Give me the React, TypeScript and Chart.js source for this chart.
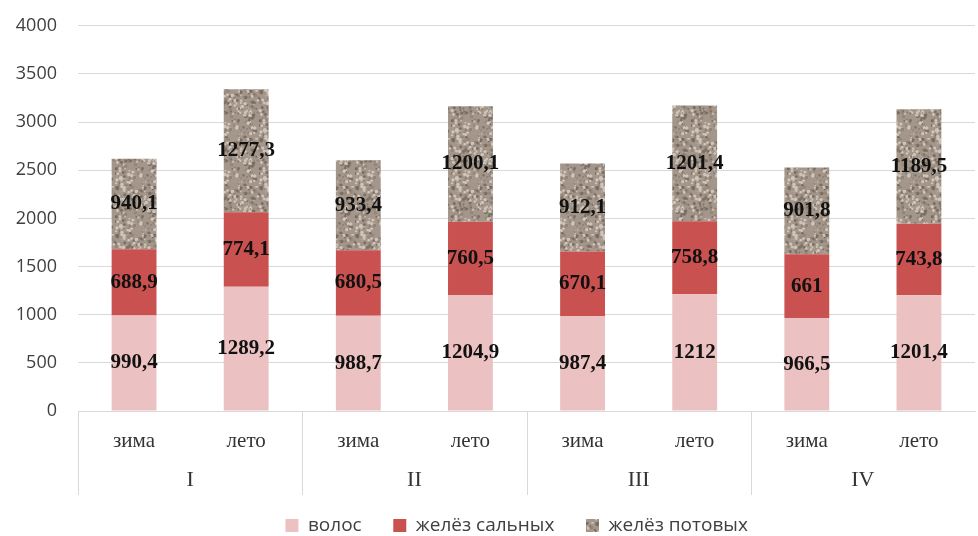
import React, { useEffect, useRef } from "react";
import { Chart, registerables } from "chart.js";
Chart.register(...registerables);

const seasons = ["зима", "лето", "зима", "лето", "зима", "лето", "зима", "лето"];
const groups = ["I", "II", "III", "IV"];
const hair = [990.4, 1289.2, 988.7, 1204.9, 987.4, 1212, 966.5, 1201.4];
const sebaceous = [688.9, 774.1, 680.5, 760.5, 670.1, 758.8, 661, 743.8];
const sweat = [940.1, 1277.3, 933.4, 1200.1, 912.1, 1201.4, 901.8, 1189.5];
const seriesNames = ["волос", "желёз сальных", "желёз потовых"];
const yTicks = [0, 500, 1000, 1500, 2000, 2500, 3000, 3500, 4000];

function makeTexture(): CanvasPattern | string {
  const c = document.createElement("canvas");
  c.width = 48;
  c.height = 48;
  const ctx = c.getContext("2d");
  if (!ctx) return "#a89a8c";
  ctx.fillStyle = "#a4968a";
  ctx.fillRect(0, 0, 48, 48);
  let s = 12345;
  const rnd = () => {
    s = (s * 1103515245 + 12345) & 0x7fffffff;
    return s / 0x7fffffff;
  };
  for (let i = 0; i < 240; i++) {
    const x = rnd() * 48;
    const y = rnd() * 48;
    const r = 0.6 + rnd() * 1.3;
    const t = rnd();
    ctx.fillStyle = t < 0.4 ? "#cfc5ba" : t < 0.75 ? "#7a6e63" : "#94877a";
    ctx.beginPath();
    ctx.arc(x, y, r, 0, Math.PI * 2);
    ctx.fill();
  }
  return ctx.createPattern(c, "repeat") || "#a89a8c";
}

function fmt(v: number): string {
  return String(v).replace(".", ",");
}

export default function App() {
  const ref = useRef<HTMLCanvasElement>(null);
  useEffect(() => {
    if (!ref.current) return;
    const texture = makeTexture();
    const labelsPlugin = {
      id: "segLabels",
      afterDatasetsDraw(chart: any) {
        const ctx = chart.ctx;
        ctx.save();
        ctx.font = "bold 21px 'Liberation Serif', 'Times New Roman', serif";
        ctx.fillStyle = "#111";
        ctx.textAlign = "center";
        ctx.textBaseline = "middle";
        chart.data.datasets.forEach((ds: any, di: number) => {
          const meta = chart.getDatasetMeta(di);
          meta.data.forEach((bar: any, i: number) => {
            const y = (bar.y + bar.base) / 2;
            ctx.fillText(fmt(ds.data[i]), bar.x, y);
          });
        });
        ctx.restore();
      },
      afterDraw(chart: any) {
        const ctx = chart.ctx;
        const xs = chart.scales.x;
        const area = chart.chartArea;
        const step = xs.getPixelForValue(1) - xs.getPixelForValue(0);
        ctx.save();
        ctx.strokeStyle = "#d9d9d9";
        ctx.lineWidth = 1;
        for (let g = 0; g < groups.length; g++) {
          const left = xs.getPixelForValue(g * 2) - step / 2;
          ctx.beginPath();
          ctx.moveTo(Math.round(left) + 0.5, area.bottom);
          ctx.lineTo(Math.round(left) + 0.5, area.bottom + 84);
          ctx.stroke();
        }
        ctx.font = "22px 'Liberation Serif', 'Times New Roman', serif";
        ctx.fillStyle = "#333";
        ctx.textAlign = "center";
        ctx.textBaseline = "middle";
        for (let g = 0; g < groups.length; g++) {
          const cx = (xs.getPixelForValue(g * 2) + xs.getPixelForValue(g * 2 + 1)) / 2;
          ctx.fillText(groups[g], cx, area.bottom + 69);
        }
        ctx.restore();
      },
    };
    const chart = new Chart(ref.current, {
      type: "bar",
      data: {
        labels: seasons,
        datasets: [
          { label: seriesNames[0], data: hair, backgroundColor: "#ecc1c1" },
          { label: seriesNames[1], data: sebaceous, backgroundColor: "#c9514f" },
          { label: seriesNames[2], data: sweat, backgroundColor: texture as any },
        ],
      },
      options: {
        animation: false,
        responsive: false,
        maintainAspectRatio: false,
        layout: { autoPadding: false, padding: { top: 25, right: 3, left: 0, bottom: -9 } },
        datasets: { bar: { barPercentage: 0.4, categoryPercentage: 1 } },
        scales: {
          x: {
            stacked: true,
            grid: { display: false, drawTicks: false },
            border: { display: true, color: "#d9d9d9" },
            ticks: {
              padding: 18,
              color: "#333",
              font: { family: "'Liberation Serif', 'Times New Roman', serif", size: 21 },
            },
            afterFit: (s: any) => {
              s.height = 103;
            },
          },
          y: {
            stacked: true,
            min: 0,
            max: 4000,
            afterBuildTicks: (s: any) => {
              s.ticks = yTicks.map((v) => ({ value: v }));
            },
            grid: { color: "#d9d9d9", drawTicks: false },
            border: { display: false },
            ticks: {
              padding: 21,
              color: "#404040",
              font: { family: "'Open Sans', 'DejaVu Sans', sans-serif", size: 18 },
              callback: (v: any) => String(v),
            },
            afterFit: (s: any) => {
              s.width = 78;
            },
          },
        },
        plugins: {
          legend: {
            position: "bottom",
            fullSize: false,
            labels: {
              boxWidth: 13,
              boxHeight: 13,
              padding: 2,
              color: "#404040",
              font: { family: "'Open Sans', 'DejaVu Sans', sans-serif", size: 19 },
              generateLabels: (chart: any) => {
                const items = Chart.defaults.plugins.legend.labels.generateLabels(chart);
                return items.map((it: any, i: number) => ({
                  ...it,
                  text: i < items.length - 1 ? it.text + "      " : it.text + "    ",
                }));
              },
            },
          },
          tooltip: { enabled: false },
        },
      },
      plugins: [labelsPlugin],
    });
    return () => chart.destroy();
  }, []);
  return (
    <div style={{ position: "fixed", left: 0, top: 0, width: 978, height: 536, overflow: "hidden", background: "#fff" }}>
      <canvas
        ref={ref}
        width={978}
        height={542}
        style={{ position: "absolute", left: 0, top: -6, width: 978, height: 542 }}
      />
    </div>
  );
}
